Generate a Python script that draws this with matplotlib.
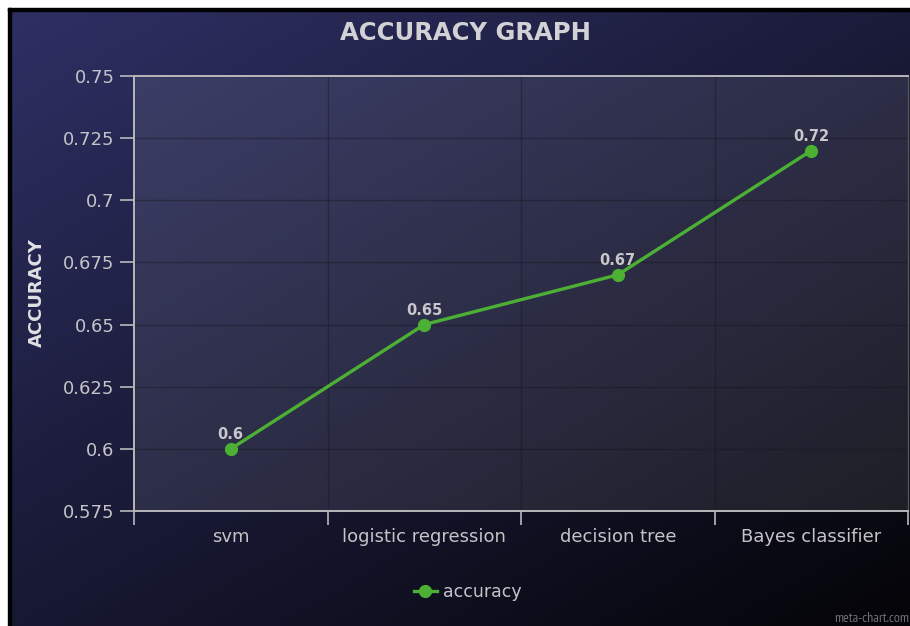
import numpy as np
import matplotlib.pyplot as plt
from matplotlib.patches import Rectangle
from matplotlib.lines import Line2D

categories = ["svm", "logistic regression", "decision tree", "Bayes classifier"]
accuracy = [0.60, 0.65, 0.67, 0.72]
point_labels = ["0.6", "0.65", "0.67", "0.72"]
yticks = [0.575, 0.6, 0.625, 0.65, 0.675, 0.7, 0.725, 0.75]
ytick_labels = ["0.575", "0.6", "0.625", "0.65", "0.675", "0.7", "0.725", "0.75"]

W, H = 910, 626
fig = plt.figure(figsize=(W / 100, H / 100), dpi=100)
fig.patch.set_facecolor("white")
plt.rcParams["font.family"] = ["DejaVu Sans"]

txt = "#c4c4c8"
green = "#4cb034"

# background gradient (navy top-left -> black bottom-right)
bg = fig.add_axes([8 / W, 0, 1 - 8 / W, 1 - 8 / H], zorder=-2)
gx, gy = np.meshgrid(np.linspace(0, 1, 300), np.linspace(0, 1, 200))
t = np.clip((gx * 0.85 + gy * 1.0) / 1.85, 0, 1)
c0 = np.array([46, 48, 100]) / 255
c1 = np.array([4, 4, 8]) / 255
img = c0[None, None, :] * (1 - t[..., None]) + c1[None, None, :] * t[..., None]
bg.imshow(img, aspect="auto", extent=[0, 1, 0, 1], origin="upper")
bg.axis("off")
# thin dark frame on the left / top
fig.patches.append(Rectangle((8 / W, 0), 2.5 / W, 1 - 8 / H, transform=fig.transFigure,
                             color="black", zorder=-1))
fig.patches.append(Rectangle((8 / W, 1 - 10.5 / H), 1 - 8 / W, 2.5 / H, transform=fig.transFigure,
                             color="black", zorder=-1))

ax = fig.add_axes([134 / W, 115 / H, 774 / W, 435 / H])
ax.set_facecolor((1, 1, 1, 0.09))

x = np.arange(len(categories))
ax.plot(x, accuracy, color=green, lw=2.4, marker="o", ms=8.5, zorder=3)
for xi, yi, lab in zip(x, accuracy, point_labels):
    ax.annotate(lab, (xi, yi), xytext=(0, 5), textcoords="offset points",
                ha="center", va="bottom", color="#c8c8cc", fontsize=10.5,
                fontweight="bold")

ax.set_xlim(-0.5, len(categories) - 0.5)
ax.set_ylim(0.575, 0.75)
ax.set_yticks(yticks)
ax.set_yticklabels(ytick_labels, fontsize=13, color=txt)
ax.set_xticks(np.arange(len(categories) + 1) - 0.5)
ax.set_xticklabels([])
ax.set_xticks(x, minor=True)
ax.set_xticklabels(categories, minor=True, fontsize=13, color=txt)
ax.tick_params(axis="x", which="major", length=10, width=1.2, color="#b8b8bc")
ax.tick_params(axis="x", which="minor", length=0, pad=12)
ax.tick_params(axis="y", length=10, width=1.2, color="#b8b8bc", pad=4)

ax.grid(True, which="major", color="#15151c", lw=1, alpha=0.4)
for s in ax.spines.values():
    s.set_color("#b8b8bc")
    s.set_linewidth(1.4)
ax.spines["right"].set_color("#55555c")
ax.spines["right"].set_linewidth(1)

fig.text(466 / W, 1 - 33 / H, "ACCURACY GRAPH", ha="center", va="center",
         fontsize=17.5, fontweight="bold", color="#d2d2d6")
fig.text(37 / W, 1 - 293 / H, "ACCURACY", rotation=90, ha="center", va="center",
         fontsize=13, fontweight="bold", color="#e0e0e4")

handle = Line2D([], [], color=green, lw=2.4, marker="o", ms=8.5)
leg = fig.legend([handle], ["accuracy"], loc="center", bbox_to_anchor=(468 / W, 1 - 592 / H),
                 frameon=False, handlelength=1.3, handletextpad=0.4,
                 prop={"size": 12.5})
for tx in leg.get_texts():
    tx.set_color(txt)

fig.text(909 / W, 1 - 619 / H, "meta-chart.com", ha="right", va="center",
         fontsize=10, color="#707078", family=["PT Sans Narrow", "DejaVu Sans"])

plt.savefig("out.png", dpi=100)
